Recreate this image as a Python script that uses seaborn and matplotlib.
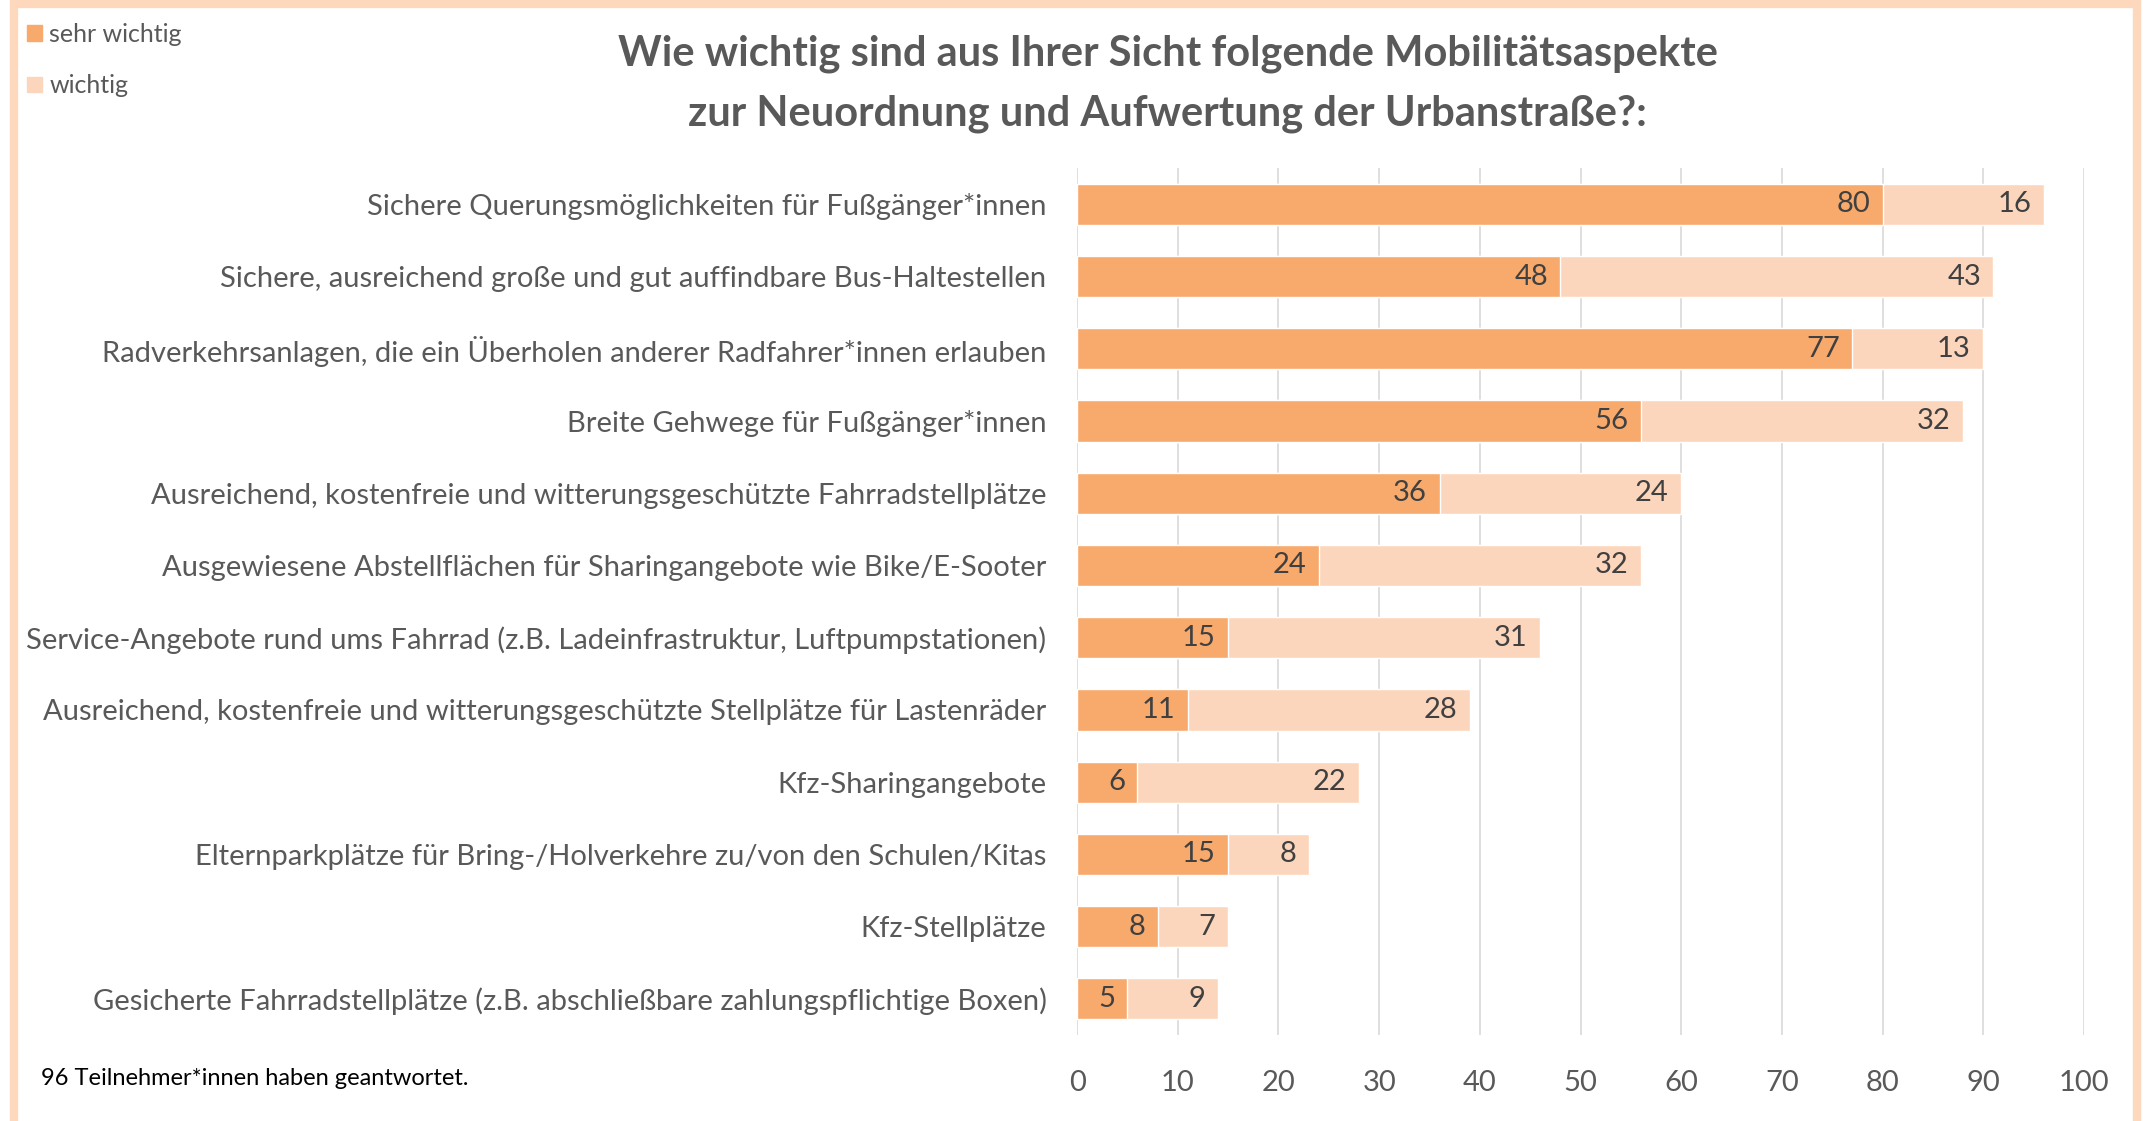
import seaborn as sns
import matplotlib.pyplot as plt
from matplotlib.patches import Rectangle

categories = [
    "Sichere Querungsmöglichkeiten für Fußgänger*innen",
    "Sichere, ausreichend große und gut auffindbare Bus-Haltestellen",
    "Radverkehrsanlagen, die ein Überholen anderer Radfahrer*innen erlauben",
    "Breite Gehwege für Fußgänger*innen",
    "Ausreichend, kostenfreie und witterungsgeschützte Fahrradstellplätze",
    "Ausgewiesene Abstellflächen für Sharingangebote wie Bike/E-Sooter",
    "Service-Angebote rund ums Fahrrad (z.B. Ladeinfrastruktur, Luftpumpstationen)",
    "Ausreichend, kostenfreie und witterungsgeschützte Stellplätze für Lastenräder",
    "Kfz-Sharingangebote",
    "Elternparkplätze für Bring-/Holverkehre zu/von den Schulen/Kitas",
    "Kfz-Stellplätze",
    "Gesicherte Fahrradstellplätze (z.B. abschließbare zahlungspflichtige Boxen)",
]
sehr_wichtig = [80, 48, 77, 56, 36, 24, 15, 11, 6, 15, 8, 5]
wichtig = [16, 43, 13, 32, 24, 32, 31, 28, 22, 8, 7, 9]
total = [a + b for a, b in zip(sehr_wichtig, wichtig)]

dark = '#F8A96C'
light = '#FCD6BC'
grey = '#595959'

sns.set_style('white')
plt.rcParams['font.family'] = ['Lato', 'DejaVu Sans']

fig = plt.figure(figsize=(21.43, 11.21), dpi=100)
ax = fig.add_axes([0.5026, 0.0767, 0.4699, 0.7733])

sns.barplot(x=total, y=categories, color=light, width=0.57, orient='h',
            saturation=1, ax=ax, zorder=2)
sns.barplot(x=sehr_wichtig, y=categories, color=dark, width=0.57, orient='h',
            saturation=1, ax=ax, zorder=3)

# value labels, right-aligned at the end of each segment
for container, values in zip(ax.containers, [wichtig, sehr_wichtig]):
    for patch, v in zip(container.patches, values):
        ax.annotate(str(v), xy=(patch.get_x() + patch.get_width(), patch.get_y() + patch.get_height() / 2),
                    xytext=(-9, 0), textcoords='offset points', ha='right', va='center',
                    fontsize=21, color='#404040', zorder=4)

ax.set_xlim(0, 100)
ax.set_ylim(11.5, -0.5)
ax.set_xticks(range(0, 101, 10))
ax.grid(axis='x', color='#D9D9D9', linewidth=1.2, zorder=0)
ax.grid(axis='y', visible=False)
ax.set_axisbelow(True)
sns.despine(ax=ax, left=True, bottom=True)
ax.tick_params(axis='y', length=0, pad=22, labelsize=21, labelcolor=grey)
ax.tick_params(axis='x', length=0, pad=25, labelsize=21, labelcolor=grey)
ax.set_xlabel('')
ax.set_ylabel('')

fig.text(0.545, 0.925, "Wie wichtig sind aus Ihrer Sicht folgende Mobilitätsaspekte\nzur Neuordnung und Aufwertung der Urbanstraße?:",
         ha='center', va='center', fontsize=30, fontweight='bold', color=grey, linespacing=1.7)

handles = [Rectangle((0, 0), 1, 1, color=dark), Rectangle((0, 0), 1, 1, color=light)]
fig.legend(handles, ['sehr wichtig', 'wichtig'], loc='upper left', bbox_to_anchor=(0.002, 1.0),
           frameon=False, handlelength=0.6, handleheight=0.6, handletextpad=0.3,
           labelspacing=1.15, fontsize=18, labelcolor=grey)

fig.text(0.019, 0.038, "96 Teilnehmer*innen haben geantwortet.", ha='left', va='center',
         fontsize=17, color='black')

# peach frame around the picture
fig.patches.append(Rectangle((0.0065, -0.01), 0.9905, 1.006, transform=fig.transFigure,
                             fill=False, edgecolor='#FDD8BC', linewidth=6, zorder=10))

fig.savefig('out.png', dpi=100)
